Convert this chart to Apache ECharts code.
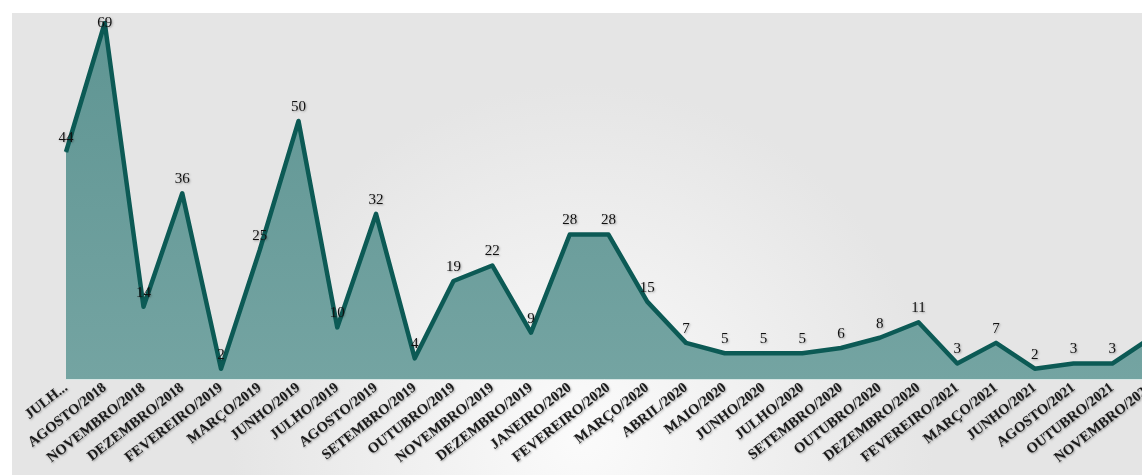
<!DOCTYPE html>
<html>
<head>
<meta charset="utf-8">
<script src="https://cdn.jsdelivr.net/npm/echarts@6/dist/echarts.min.js"></script>
<style>
html,body{margin:0;padding:0;background:#fff;}
#chart{width:1142px;height:475px;}
</style>
</head>
<body>
<div id="chart"></div>
<script>
// meses e quantidades
var meses=['JULHO/2018','AGOSTO/2018','NOVEMBRO/2018','DEZEMBRO/2018','FEVEREIRO/2019','MARÇO/2019','JUNHO/2019','JULHO/2019','AGOSTO/2019','SETEMBRO/2019','OUTUBRO/2019','NOVEMBRO/2019','DEZEMBRO/2019','JANEIRO/2020','FEVEREIRO/2020','MARÇO/2020','ABRIL/2020','MAIO/2020','JUNHO/2020','JULHO/2020','SETEMBRO/2020','OUTUBRO/2020','DEZEMBRO/2020','FEVEREIRO/2021','MARÇO/2021','JUNHO/2021','AGOSTO/2021','OUTUBRO/2021','NOVEMBRO/2021'];
var quantidades=[44,69,14,36,2,25,50,10,32,4,19,22,9,28,28,15,7,5,5,5,6,8,11,3,7,2,3,3,8];

window.onload=function(){
    var myChart=echarts.init(document.getElementById('chart'));

    var maior=Math.max.apply(null,quantidades);
    var dados=[];
    for(var i=0;i<quantidades.length;i++){
        if(quantidades[i]==maior){
            // o rótulo do pico fica em cima do ponto
            dados.push({value:quantidades[i],label:{position:'inside',offset:[0,2]}});
        }else{
            dados.push(quantidades[i]);
        }
    }

    var option={
        backgroundColor:'#ffffff',
        animation:false,
        graphic:[{
            type:'rect',
            z:-10,
            shape:{x:12,y:13,width:1140,height:470},
            style:{
                fill:{
                    type:'radial',x:0.5,y:0.9,r:0.75,
                    colorStops:[{offset:0,color:'#fbfbfb'},{offset:1,color:'#e5e5e5'}]
                }
            }
        }],
        grid:{left:66,width:1085,top:23,bottom:96,containLabel:false,outerBoundsMode:'none'},
        xAxis:{
            type:'category',
            boundaryGap:false,
            data:meses,
            axisLine:{show:true,lineStyle:{color:'#d6e6e4',width:1}},
            axisTick:{show:false},
            axisLabel:{
                interval:0,
                rotate:38,
                margin:7,
                fontFamily:'Liberation Serif',
                fontWeight:'bold',
                fontSize:14.5,
                color:'#1a1a1a',
                textShadowColor:'rgba(0,0,0,0.35)',
                textShadowBlur:2,
                textShadowOffsetX:1,
                textShadowOffsetY:1,
                formatter:function(v,i){
                    return i===0 ? 'JULH...' : v;
                }
            }
        },
        yAxis:{
            type:'value',
            min:0,
            max:69,
            show:false,
            splitLine:{show:false}
        },
        series:[{
            type:'line',
            data:dados,
            symbol:'circle',
            symbolSize:1,
            showSymbol:true,
            itemStyle:{color:'#0c5a55'},
            lineStyle:{color:'#0c5a55',width:4.5,join:'round'},
            areaStyle:{
                color:{
                    type:'linear',x:0,y:0,x2:0,y2:1,
                    colorStops:[{offset:0,color:'#5f9593'},{offset:1,color:'#74a4a2'}]
                },
                opacity:1
            },
            label:{
                show:true,
                position:'top',
                distance:6,
                fontFamily:'Liberation Serif',
                fontSize:15,
                color:'#111',
                textShadowColor:'rgba(0,0,0,0.3)',
                textShadowBlur:2,
                textShadowOffsetX:1,
                textShadowOffsetY:1
            },
            labelLayout:{hideOverlap:false}
        }]
    };

    myChart.setOption(option);
}
</script>
</body>
</html>
